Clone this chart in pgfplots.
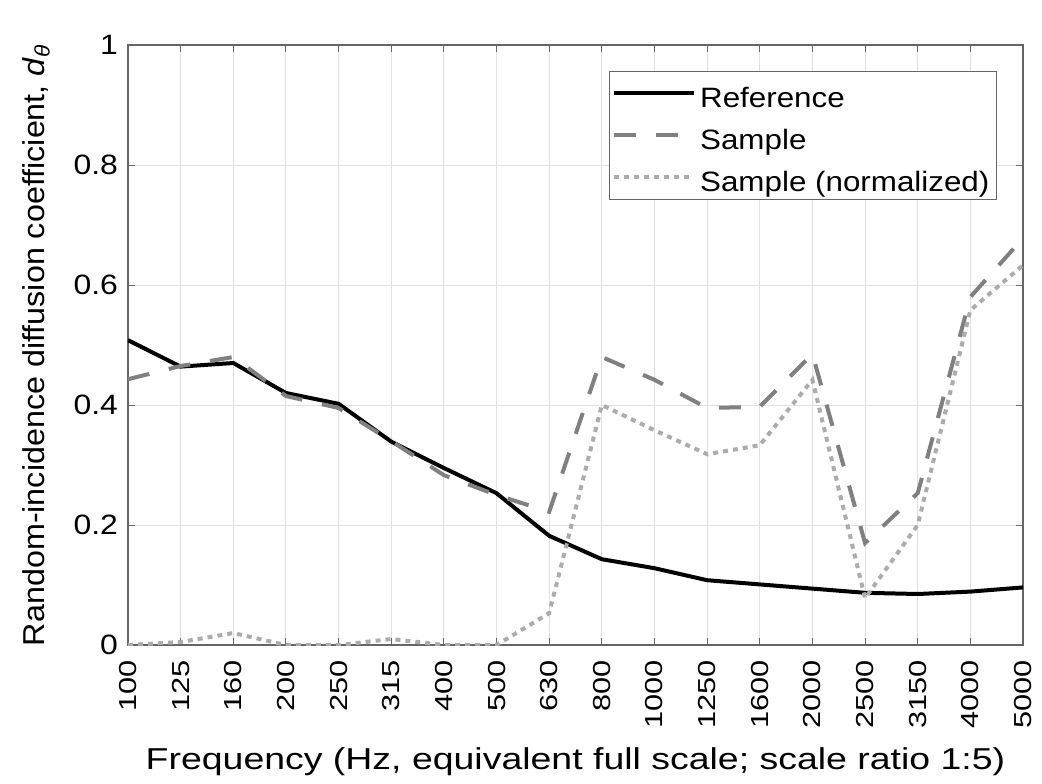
\documentclass[border=0pt]{standalone}
\usepackage{pgfplots}
\pgfplotsset{compat=1.18}
\usepackage{fontspec}
\setmainfont{Liberation Sans}
\newfontfamily\ytf[FakeStretch=1.14]{Liberation Sans}
\newfontfamily\xtf[FakeStretch=1.25]{Liberation Sans}
\newfontfamily\xlf[FakeStretch=1.24]{Liberation Sans}
\newfontfamily\ylf[FakeStretch=1.07]{Liberation Sans}
\newfontfamily\lgf[FakeStretch=1.12]{Liberation Sans}
\definecolor{dgray}{RGB}{128,128,128}
\definecolor{lgray}{RGB}{172,172,172}
\begin{document}
\begin{tikzpicture}
\begin{axis}[
  width=447.5pt, height=300pt, scale only axis,
  xmin=0, xmax=17, ymin=0, ymax=1,
  xtick={0,...,17},
  xticklabels={100,125,160,200,250,315,400,500,630,800,1000,1250,1600,2000,2500,3150,4000,5000},
  ytick={0,0.2,0.4,0.6,0.8,1},
  yticklabels={0,0.2,0.4,0.6,0.8,1},
  xticklabel style={rotate=90, anchor=east, font=\xtf\fontsize{12.3}{15}\selectfont},
  yticklabel style={font=\ytf\fontsize{14}{16}\selectfont},
  xticklabel shift=4pt,
  yticklabel shift=1.5pt,
  tick align=inside, tick pos=both,
  major tick length=3.5pt,
  tick style={color=black!60, line width=0.5pt},
  axis line style={black!60, line width=0.6pt},
  grid=major, grid style={black!12, line width=0.5pt},
  xlabel={\xlf Frequency (Hz, equivalent full scale; scale ratio 1:5)},
  ylabel={\ylf Random-incidence diffusion coefficient, \textit{d}\textsubscript{\textit{θ}}},
  label style={font=\fontsize{15.1}{17}\selectfont},
  xlabel style={yshift=-2.5pt},
  ylabel style={yshift=5pt},
  legend style={at={(0.971,0.957)}, anchor=north east, draw=black!60, line width=0.6pt,
    font=\lgf\fontsize{14}{17}\selectfont, row sep=1pt, inner xsep=1.5pt, inner ysep=1pt,
    nodes={text height=15pt, text depth=1pt}},
  legend cell align=left,
  legend image code/.code={\draw[#1] (0pt,0pt) -- (40pt,0pt);},
]
\addplot[black, line width=2pt] coordinates {
(0,0.508)(1,0.464)(2,0.470)(3,0.420)(4,0.402)(5,0.339)(6,0.295)(7,0.253)(8,0.182)
(9,0.143)(10,0.128)(11,0.108)(12,0.101)(13,0.094)(14,0.087)(15,0.085)(16,0.089)(17,0.096)};
\addlegendentry{Reference}
\addplot[dgray, line width=2pt, dash pattern=on 11pt off 10pt] coordinates {
(0,0.443)(1,0.465)(2,0.480)(3,0.415)(4,0.395)(5,0.340)(6,0.283)(7,0.250)(8,0.222)
(9,0.480)(10,0.442)(11,0.395)(12,0.397)(13,0.485)(14,0.170)(15,0.253)(16,0.580)(17,0.678)};
\addlegendentry{Sample}
\addplot[lgray, line width=2pt, dash pattern=on 2.5pt off 2.5pt] coordinates {
(0,0.0)(1,0.005)(2,0.020)(3,0.0)(4,0.0)(5,0.010)(6,0.0)(7,0.0)(8,0.053)
(9,0.400)(10,0.358)(11,0.318)(12,0.333)(13,0.442)(14,0.078)(15,0.200)(16,0.558)(17,0.633)};
\addlegendentry{Sample (normalized)}
\end{axis}
\pgfresetboundingbox
\path[use as bounding box] ([xshift=-64pt,yshift=-69pt]current axis.south west) rectangle ([xshift=9.5pt,yshift=22.5pt]current axis.north east);
\end{tikzpicture}
\end{document}
